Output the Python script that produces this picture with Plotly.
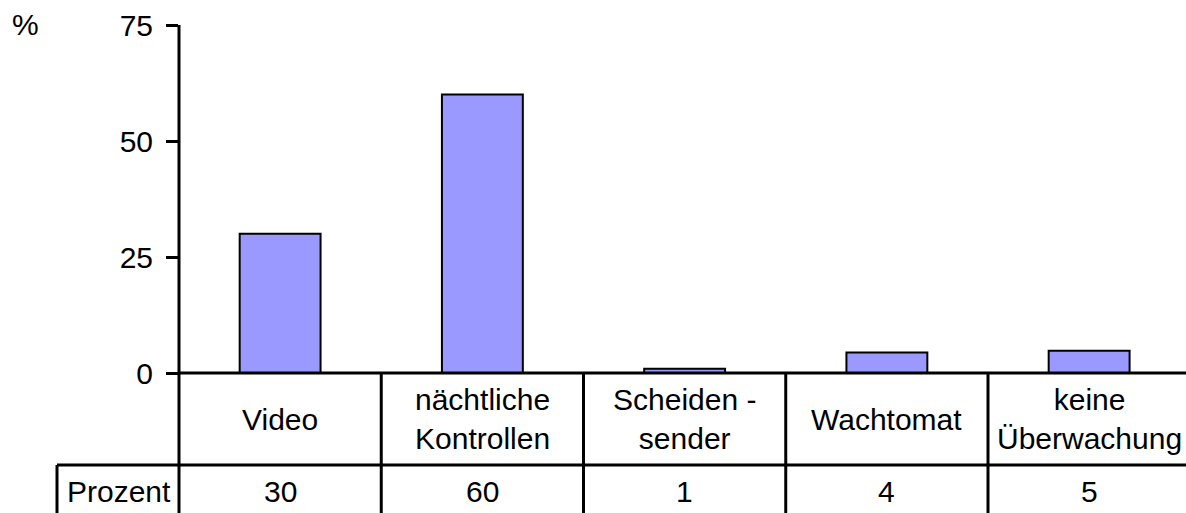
import plotly.graph_objects as go

# ---- data ----
categories = ["Video", "nächtliche<br>Kontrollen", "Scheiden -<br>sender", "Wachtomat", "keine<br>Überwachung"]
values = [30, 60, 0.9, 4.4, 4.8]
table_values = ["30", "60", "1", "4", "5"]
row_label = "Prozent"
y_unit = "%"
y_ticks = [0, 25, 50, 75]

# ---- layout constants ----
W, H = 1186, 513
ML, MR, MT, MB = 179, 0, 25, 140
plot_w = W - ML - MR
plot_h = H - MT - MB
cat_px = 202.25
x0 = -0.5
x1 = x0 + plot_w / cat_px
FONT = dict(family="Liberation Sans, Arial, sans-serif", size=30, color="black")
LW = 3

def px_to_paper_x(px):
    return (px - ML) / plot_w

def px_to_paper_y(py):
    return (H - MB - py) / plot_h

def boundary_paper(b):
    return (b - x0) / (x1 - x0)

xs = list(range(len(categories)))

fig = go.Figure()
fig.add_trace(go.Bar(
    x=xs, y=values,
    width=0.4,
    marker=dict(color="#9999FF", line=dict(color="black", width=2)),
    hoverinfo="skip",
))

row1_bottom = px_to_paper_y(465)
table_bottom = px_to_paper_y(H + 5)
left_cell = px_to_paper_x(57)

shapes = []
line = dict(color="black", width=LW)
# y axis line continuing down through the table
shapes.append(dict(type="line", xref="paper", yref="paper", x0=0, x1=0, y0=1, y1=table_bottom, line=line))
# baseline
shapes.append(dict(type="line", xref="paper", yref="paper", x0=0, x1=1, y0=0, y1=0, line=line))
# category separators
for i in range(len(categories) - 1):
    bx = boundary_paper(i + 0.5)
    shapes.append(dict(type="line", xref="paper", yref="paper", x0=bx, x1=bx, y0=0, y1=table_bottom, line=line))
# table row line
shapes.append(dict(type="line", xref="paper", yref="paper", x0=left_cell, x1=1, y0=row1_bottom, y1=row1_bottom, line=line))
# left cell border
shapes.append(dict(type="line", xref="paper", yref="paper", x0=left_cell, x1=left_cell, y0=row1_bottom, y1=table_bottom, line=line))

annotations = []
for x, lab, v in zip(xs, categories, table_values):
    annotations.append(dict(x=x, y=px_to_paper_y(419), xref="x", yref="paper", text=lab,
                            showarrow=False, xanchor="center", yanchor="middle", font=FONT))
    annotations.append(dict(x=x, y=px_to_paper_y(492), xref="x", yref="paper", text=v,
                            showarrow=False, xanchor="center", yanchor="middle", font=FONT))
annotations.append(dict(x=px_to_paper_x(119), y=px_to_paper_y(492), xref="paper", yref="paper",
                        text=row_label, showarrow=False, xanchor="center", yanchor="middle", font=FONT))
annotations.append(dict(x=px_to_paper_x(25), y=px_to_paper_y(24), xref="paper", yref="paper",
                        text=y_unit, showarrow=False, xanchor="center", yanchor="middle", font=FONT))

fig.update_layout(
    width=W, height=H,
    margin=dict(l=ML, r=MR, t=MT, b=MB, pad=0),
    paper_bgcolor="white", plot_bgcolor="white",
    showlegend=False,
    font=FONT,
    shapes=shapes,
    annotations=annotations,
    bargap=0.6,
)
fig.update_xaxes(range=[x0, x1], showline=False, showgrid=False, zeroline=False,
                 showticklabels=False, ticks="")
fig.update_yaxes(range=[0, 75], tickvals=y_ticks, showline=False, showgrid=False, zeroline=False,
                 ticks="outside", ticklen=12, tickwidth=LW, tickcolor="black",
                 ticklabelstandoff=7, tickfont=FONT)

fig.write_html(
    "out.html",
    config={"displayModeBar": False},
    post_script="document.body.style.margin='0';document.body.style.overflow='hidden';",
)
